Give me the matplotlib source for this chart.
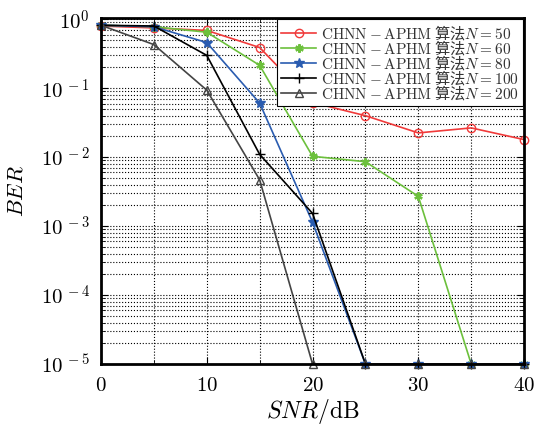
import matplotlib
matplotlib.use("Agg")
import matplotlib.pyplot as plt
from matplotlib.ticker import MultipleLocator, LogLocator, NullFormatter, FuncFormatter
import numpy as np

plt.rcParams['font.family'] = ['cmr10', 'Noto Sans CJK SC']
plt.rcParams['mathtext.fontset'] = 'cm'
plt.rcParams['axes.formatter.use_mathtext'] = True
plt.rcParams['axes.unicode_minus'] = False

snr = [0, 5, 10, 15, 20, 25, 30, 35, 40]

# BER per SNR; 1e-5 stands for "no errors" (floor of the plot)
ber_50 = [0.80, 0.75, 0.69, 0.39, 0.062, 0.040, 0.0225, 0.0266, 0.018]
ber_60 = [0.82, 0.78, 0.65, 0.215, 0.0103, 0.0086, 0.0027, 1e-5, 1e-5]
ber_80 = [0.82, 0.78, 0.46, 0.061, 0.00114, 1e-5, 1e-5, 1e-5, 1e-5]
ber_100 = [0.82, 0.80, 0.30, 0.011, 0.00153, 1e-5, 1e-5, 1e-5, 1e-5]
ber_200 = [0.82, 0.43, 0.094, 0.0047, 1e-5, 1e-5, 1e-5, 1e-5, 1e-5]

series = [
    (ber_50, 50, '#f03a3a', 'o'),
    (ber_60, 60, '#6cc03c', (6, 2, 0)),
    (ber_80, 80, '#2a5cb0', '*'),
    (ber_100, 100, '#000000', '+'),
    (ber_200, 200, '#444444', '^'),
]

fig = plt.figure(figsize=(5.37, 4.25), dpi=100)
ax = fig.add_axes([0.188, 0.1435, 0.788, 0.8145])

for vals, n, col, mk in series:
    kw = dict(color=col, marker=mk, lw=1.2, ms=7, clip_on=False)
    if mk in ('o', '^'):
        kw['markerfacecolor'] = 'none'
        kw['ms'] = 6
    if mk == (6, 2, 0):
        kw['mew'] = 1.6
        kw['ms'] = 6
    ax.plot(snr, vals, label=r'$\mathrm{CHNN-APHM}$ 算法$N=%d$' % n, **kw)

ax.set_yscale('log')
ax.set_xlim(0, 40)
ax.set_ylim(1e-5, 1.05)
ax.xaxis.set_major_locator(MultipleLocator(10))
ax.xaxis.set_minor_locator(MultipleLocator(5))
ax.yaxis.set_major_locator(LogLocator(base=10, numticks=10))
ax.yaxis.set_minor_locator(LogLocator(base=10, subs=range(2, 10), numticks=100))
ax.yaxis.set_minor_formatter(NullFormatter())


def pow_label(v, pos):
    e = int(round(np.log10(v)))
    if e < 0:
        return r'$10^{\,-%d}$' % (-e)
    return r'$10^{%d}$' % e


ax.yaxis.set_major_formatter(FuncFormatter(pow_label))

ax.grid(True, which='both', linestyle=':', color='black', linewidth=0.8)
ax.tick_params(which='both', direction='in', top=True, right=True, labelsize=15)
ax.tick_params(which='major', length=5)
ax.tick_params(which='minor', length=3)
ax.tick_params(axis='x', which='major', pad=9)
ax.tick_params(axis='y', which='major', pad=8)
for s in ax.spines.values():
    s.set_linewidth(2)

ax.set_xlabel(r'$SNR/\mathrm{dB}$', fontsize=17, labelpad=2)
ax.set_ylabel(r'$BER$', fontsize=16, labelpad=10)

leg = ax.legend(loc='upper right', prop=dict(family='Noto Sans CJK SC', size=11),
                fancybox=False, framealpha=1, edgecolor='black',
                borderaxespad=0.1, handlelength=2.3, labelspacing=-0.25,
                borderpad=0.25, handletextpad=0.3)
leg.get_frame().set_linewidth(0.8)
for t in leg.get_texts():
    t.set_color('#333333')

fig.savefig('out.png', dpi=100)
